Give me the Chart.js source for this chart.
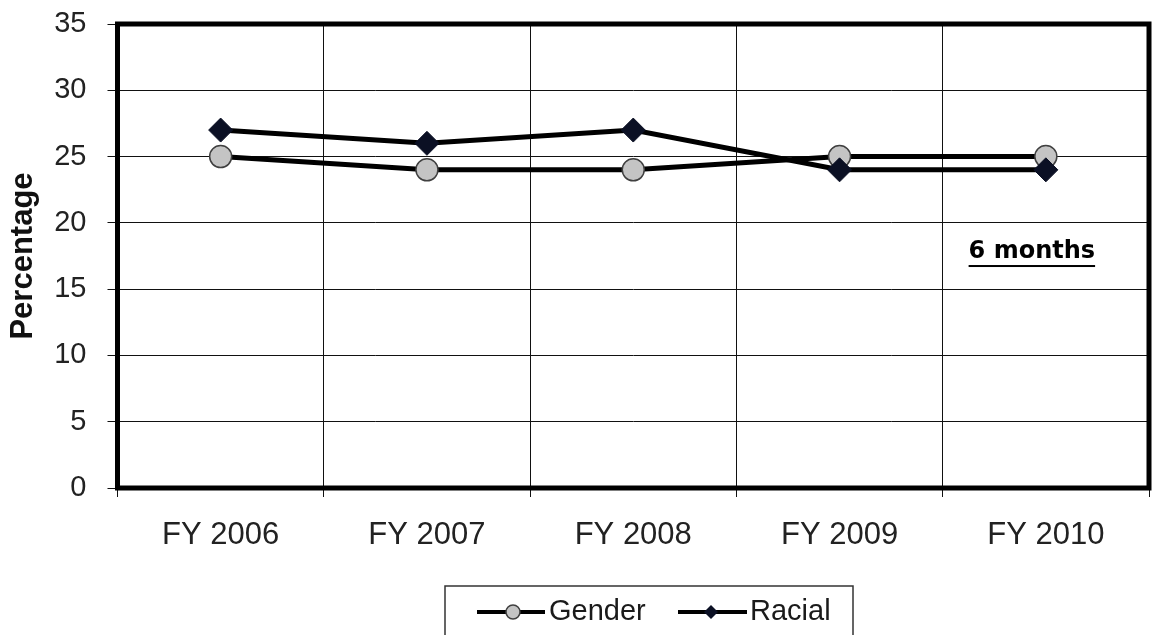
<!DOCTYPE html>
<html>
<head>
<meta charset="utf-8">
<script src="https://cdn.jsdelivr.net/npm/chart.js@4/dist/chart.umd.min.js"></script>
<style>
  html, body { margin: 0; padding: 0; background: #fff; }
  #wrap { width: 1162px; height: 635px; position: relative; }
</style>
</head>
<body>
<div id="wrap"><canvas id="c" width="1162" height="635"></canvas></div>
<script>
// Fiscal years on the category axis
const categories = ['FY 2006', 'FY 2007', 'FY 2008', 'FY 2009', 'FY 2010'];
// Percentages per year
const genderValues = [25, 24, 24, 25, 25];
const racialValues = [27, 26, 27, 24, 24];
// Value axis range
const yMin = 0;
const yMax = 35;
const yStep = 5;
const noteText = '6 months';
const noteAt = { index: 4, value: 17.8 };

const FONT = '"Liberation Sans", Arial, sans-serif';
const circleFill = '#c4c4c4';
const circleEdge = '#404040';
const diamondFill = '#0b1024';

// Frame, note and legend drawn on top of the chart
const extras = {
  id: 'extras',
  afterDraw(chart) {
    const ctx = chart.ctx;
    const a = chart.chartArea;
    const xs = chart.scales.x, ys = chart.scales.y;
    ctx.save();
    // heavy frame round the plot area
    ctx.strokeStyle = '#000';
    ctx.lineWidth = 5;
    ctx.strokeRect(a.left, a.top, a.right - a.left, a.bottom - a.top);

    // underlined note
    ctx.font = 'bold 24px "DejaVu Sans", Verdana, sans-serif';
    ctx.fillStyle = '#000';
    ctx.textAlign = 'center';
    ctx.textBaseline = 'middle';
    const nx = xs.getPixelForValue(noteAt.index) - 14;
    const ny = ys.getPixelForValue(noteAt.value);
    ctx.fillText(noteText, nx, ny);
    const w = ctx.measureText(noteText).width;
    ctx.fillRect(nx - w / 2, ny + 13, w, 2);

    // legend box
    const lx = 445, ly = 586, lw = 408;
    ctx.strokeStyle = '#333';
    ctx.lineWidth = 1.5;
    ctx.strokeRect(lx, ly, lw, 80);
    const cy = 612;
    ctx.font = '29px ' + FONT;
    ctx.textAlign = 'left';
    ctx.fillStyle = '#1a1a1a';
    // Gender entry
    ctx.strokeStyle = '#000';
    ctx.lineWidth = 4;
    ctx.beginPath(); ctx.moveTo(477, cy); ctx.lineTo(545, cy); ctx.stroke();
    ctx.beginPath(); ctx.arc(513, cy, 7, 0, Math.PI * 2);
    ctx.fillStyle = circleFill; ctx.fill();
    ctx.lineWidth = 1.5; ctx.strokeStyle = circleEdge; ctx.stroke();
    ctx.fillStyle = '#1a1a1a';
    ctx.fillText(chart.data.datasets[0].label, 549, cy);
    // Racial entry
    ctx.strokeStyle = '#000';
    ctx.lineWidth = 4;
    ctx.beginPath(); ctx.moveTo(678, cy); ctx.lineTo(747, cy); ctx.stroke();
    ctx.beginPath();
    ctx.moveTo(711 - 7, cy); ctx.lineTo(711, cy - 7); ctx.lineTo(711 + 7, cy); ctx.lineTo(711, cy + 7);
    ctx.closePath();
    ctx.fillStyle = diamondFill; ctx.fill();
    ctx.fillStyle = '#1a1a1a';
    ctx.fillText(chart.data.datasets[1].label, 750, cy);
    ctx.restore();
  }
};

new Chart(document.getElementById('c'), {
  type: 'line',
  data: {
    labels: categories,
    datasets: [
      {
        label: 'Gender',
        data: genderValues,
        borderColor: '#000',
        borderWidth: 5,
        pointStyle: 'circle',
        pointRadius: 11,
        pointBackgroundColor: circleFill,
        pointBorderColor: circleEdge,
        pointBorderWidth: 1.5,
        tension: 0,
        order: 1
      },
      {
        label: 'Racial',
        data: racialValues,
        borderColor: '#000',
        borderWidth: 5,
        pointStyle: 'rectRot',
        pointRadius: 12,
        pointBackgroundColor: diamondFill,
        pointBorderColor: diamondFill,
        pointBorderWidth: 1,
        tension: 0,
        order: 0
      }
    ]
  },
  options: {
    responsive: false,
    animation: false,
    devicePixelRatio: 1,
    layout: { padding: { top: 24, right: 10, left: 0, bottom: 0 } },
    plugins: { legend: { display: false }, tooltip: { enabled: false } },
    scales: {
      x: {
        offset: true,
        grid: { offset: true, color: '#111', lineWidth: 1, tickLength: 9, tickColor: '#111' },
        border: { display: false },
        ticks: { color: '#222', font: { family: FONT, size: 31 }, padding: 20, maxRotation: 0 },
        afterFit(s) { s.height = 147; s.paddingLeft = 0; s.paddingRight = 0; }
      },
      y: {
        min: yMin,
        max: yMax,
        grid: { color: '#111', lineWidth: 1, tickLength: 10, tickColor: '#111' },
        border: { display: false },
        ticks: { stepSize: yStep, color: '#222', font: { family: FONT, size: 29 }, padding: 21 },
        title: {
          display: true,
          text: 'Percentage',
          color: '#111',
          font: { family: FONT, size: 31, weight: 'bold' },
          padding: { top: 5, bottom: 0 }
        },
        afterFit(s) { s.width = 117.5; s.paddingTop = 0; s.paddingBottom = 0; }
      }
    }
  },
  plugins: [extras]
});
</script>
</body>
</html>
